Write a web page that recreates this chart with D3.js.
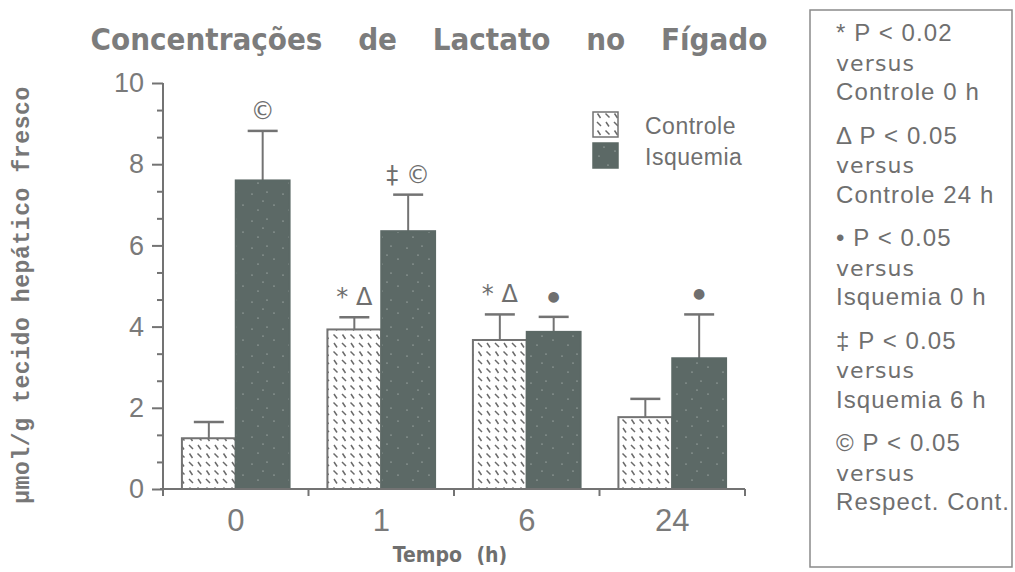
<!DOCTYPE html>
<html>
<head>
<meta charset="utf-8">
<script src="https://cdn.jsdelivr.net/npm/d3@7"></script>
<style>
  body { margin: 0; background: #fff; }
  svg { display: block; }
  text { fill: #6f6f6f; }
</style>
</head>
<body>
<svg id="chart" width="1015" height="572"></svg>
<script>
// data
let tempos = ["0", "1", "6", "24"]
let grupos = ["Controle", "Isquemia"]
let controle = [1.25, 3.93, 3.67, 1.77]
let controleErr = [0.40, 0.30, 0.63, 0.45]
let isquemia = [7.60, 6.35, 3.87, 3.22]
let isquemiaErr = [1.22, 0.90, 0.37, 1.08]
let yTicks = [0, 2, 4, 6, 8, 10]
// significance marks above each bar
let marcasControle = ["", "* \u0394", "* \u0394", ""]
let marcasIsquemia = ["\u00a9", "\u2021 \u00a9", "\u25cf", "\u25cf"]
let notas = [
  ["* P < 0.02", "versus", "Controle 0 h"],
  ["\u0394 P < 0.05", "versus", "Controle 24 h"],
  ["\u2022 P < 0.05", "versus", "Isquemia 0 h"],
  ["\u2021 P < 0.05", "versus", "Isquemia 6 h"],
  ["\u00a9 P < 0.05", "versus", "Respect. Cont."]
]

let grey = "#737373"
let dark = "#5c6966"

let svg = d3.select("#chart")

let defs = svg.append("defs")
let hatch = defs.append("pattern")
    .attr("id", "hatch")
    .attr("patternUnits", "userSpaceOnUse")
    .attr("width", 17).attr("height", 17)
hatch.append("rect").attr("width", 17).attr("height", 17).attr("fill", "#fff")
hatch.append("path")
    .attr("d", "M2,3 L6,7 M10.5,11.5 L14.5,15.5 M11,3 L14,7.5 M2.5,11.5 L5.5,16")
    .attr("stroke", "#6a6a6a").attr("stroke-width", 1.5)

let speck = defs.append("pattern")
    .attr("id", "speck")
    .attr("patternUnits", "userSpaceOnUse")
    .attr("width", 31).attr("height", 27)
speck.append("rect").attr("width", 31).attr("height", 27).attr("fill", dark)
speck.selectAll("circle")
    .data([[4, 5], [19, 3], [26, 16], [10, 21], [15, 12]])
    .enter().append("circle")
    .attr("cx", d => d[0]).attr("cy", d => d[1]).attr("r", 0.6)
    .attr("fill", "#cfd6d4")

let x0 = d3.scaleBand().domain(tempos).range([163, 745])
let x1 = d3.scaleBand().domain(grupos)
    .range([x0.bandwidth() * 0.13, x0.bandwidth() * 0.87])
let y = d3.scaleLinear().domain([0, 10]).range([489, 83])

// title
svg.append("text")
    .attr("x", 429).attr("y", 50)
    .attr("text-anchor", "middle")
    .style("font-family", "'DejaVu Sans Condensed', 'DejaVu Sans'")
    .style("font-weight", "bold")
    .style("font-size", "31px")
    .style("word-spacing", "26px")
    .style("fill", "#7c7c7c")
    .text("Concentrações de Lactato no Fígado")

// bars
let rows = tempos.map((t, i) => [
  {t: t, g: "Controle", v: controle[i], e: controleErr[i], m: marcasControle[i]},
  {t: t, g: "Isquemia", v: isquemia[i], e: isquemiaErr[i], m: marcasIsquemia[i]}
]).flat()

let bars = svg.append("g").attr("class", "bars")
bars.selectAll("line")
    .data(rows).enter().append("line")
    .attr("x1", d => x0(d.t) + x1(d.g) + x1.bandwidth() / 2)
    .attr("x2", d => x0(d.t) + x1(d.g) + x1.bandwidth() / 2)
    .attr("y1", d => y(d.v))
    .attr("y2", d => y(d.v + d.e))
    .attr("stroke", grey).attr("stroke-width", 2)
bars.selectAll("path.cap")
    .data(rows).enter().append("path")
    .attr("class", "cap")
    .attr("d", d => {
      let cx = x0(d.t) + x1(d.g) + x1.bandwidth() / 2
      return "M" + (cx - 15) + "," + y(d.v + d.e) + "H" + (cx + 15)
    })
    .attr("stroke", grey).attr("stroke-width", 2.5)
bars.selectAll("rect")
    .data(rows).enter().append("rect")
    .attr("x", d => x0(d.t) + x1(d.g))
    .attr("y", d => y(d.v))
    .attr("width", x1.bandwidth())
    .attr("height", d => y(0) - y(d.v))
    .attr("fill", d => d.g == "Controle" ? "url(#hatch)" : "url(#speck)")
    .attr("stroke", d => d.g == "Controle" ? grey : dark)
    .attr("stroke-width", 2)

bars.selectAll("text")
    .data(rows.filter(d => d.m)).enter().append("text")
    .attr("x", d => x0(d.t) + x1(d.g) + x1.bandwidth() / 2)
    .attr("y", d => y(d.v + d.e) - (d.m == "\u25cf" ? 16 : 12))
    .attr("text-anchor", "middle")
    .style("font-family", "'DejaVu Sans', sans-serif")
    .style("font-size", d => d.m == "\u25cf" ? "14px" : "24px")
    .text(d => d.m)

// y axis
let yAxis = svg.append("g")
    .attr("transform", "translate(163,0)")
    .call(d3.axisLeft(y).tickValues(yTicks).tickSize(11).tickPadding(8))
let minor = d3.range(0, 16).filter(i => i % 3 != 0).map(i => i * 2 / 3)
let yMinor = svg.append("g")
    .attr("transform", "translate(163,0)")
    .call(d3.axisLeft(y).tickValues(minor).tickSize(6).tickFormat(""))
yMinor.select(".domain").remove()
;[yAxis, yMinor].forEach(g => {
  g.selectAll("line").attr("stroke", grey).attr("stroke-width", 2)
  g.select(".domain").attr("stroke", grey).attr("stroke-width", 2)
      .attr("d", "M0," + y(10) + "V" + (y(0) + 5))
})
yAxis.selectAll("text")
    .style("font-family", "'Liberation Sans', sans-serif")
    .style("font-size", "27px")
    .style("fill", "#7a7a7a")

// x axis: ticks at the group boundaries
let xAxis = svg.append("g")
xAxis.append("path")
    .attr("d", "M160," + y(0) + "H" + x0.range()[1])
    .attr("stroke", grey).attr("stroke-width", 2.2)
xAxis.selectAll("line")
    .data(tempos.concat(["end"])).enter().append("line")
    .attr("x1", (d, i) => x0.range()[0] + i * x0.step())
    .attr("x2", (d, i) => x0.range()[0] + i * x0.step())
    .attr("y1", y(0)).attr("y2", y(0) + 7)
    .attr("stroke", grey).attr("stroke-width", 2)
xAxis.selectAll("text")
    .data(tempos).enter().append("text")
    .attr("x", d => x0(d) + x0.bandwidth() / 2)
    .attr("y", 531)
    .attr("text-anchor", "middle")
    .style("font-family", "'Liberation Sans', sans-serif")
    .style("font-size", "31px")
    .style("fill", "#7a7a7a")
    .text(d => d)

svg.append("text")
    .attr("x", 450).attr("y", 562)
    .attr("text-anchor", "middle")
    .style("font-family", "'DejaVu Sans Condensed', 'DejaVu Sans'")
    .style("font-weight", "bold")
    .style("font-size", "21px")
    .style("word-spacing", "8px")
    .text("Tempo (h)")

svg.append("text")
    .attr("transform", "translate(29,295) rotate(-90)")
    .attr("text-anchor", "middle")
    .style("font-family", "'Liberation Mono', monospace")
    .style("font-weight", "bold")
    .style("font-size", "23px")
    .style("letter-spacing", "0.6px")
    .style("fill", "#777")
    .text("\u00b5mol/g tecido hepático fresco")

// legend
let legend = svg.append("g")
legend.selectAll("rect")
    .data(grupos).enter().append("rect")
    .attr("x", 593).attr("y", (d, i) => 112 + i * 31)
    .attr("width", 25).attr("height", 25)
    .attr("fill", d => d == "Controle" ? "url(#hatch)" : "url(#speck)")
    .attr("stroke", d => d == "Controle" ? grey : dark)
    .attr("stroke-width", 1.5)
legend.selectAll("text")
    .data(grupos).enter().append("text")
    .attr("x", 645).attr("y", (d, i) => 134 + i * 31)
    .style("font-family", "'Liberation Sans', sans-serif")
    .style("font-size", "23px")
    .style("letter-spacing", "0.5px")
    .text(d => d)

// notes box
let box = svg.append("g")
box.append("rect")
    .attr("x", 810).attr("y", 10)
    .attr("width", 202).attr("height", 557)
    .attr("fill", "none").attr("stroke", "#8a8a8a").attr("stroke-width", 1.5)
notas.forEach((n, i) => {
  n.forEach((line, j) => {
    box.append("text")
      .attr("x", 836)
      .attr("y", 41 + i * 102.5 + j * 29.5)
      .style("font-family", j == 1 ? "'DejaVu Sans', sans-serif" : "'Liberation Sans', sans-serif")
      .style("font-size", j == 1 ? "22px" : "24px")
      .style("letter-spacing", "1.1px")
      .text(line)
  })
})
</script>
</body>
</html>
